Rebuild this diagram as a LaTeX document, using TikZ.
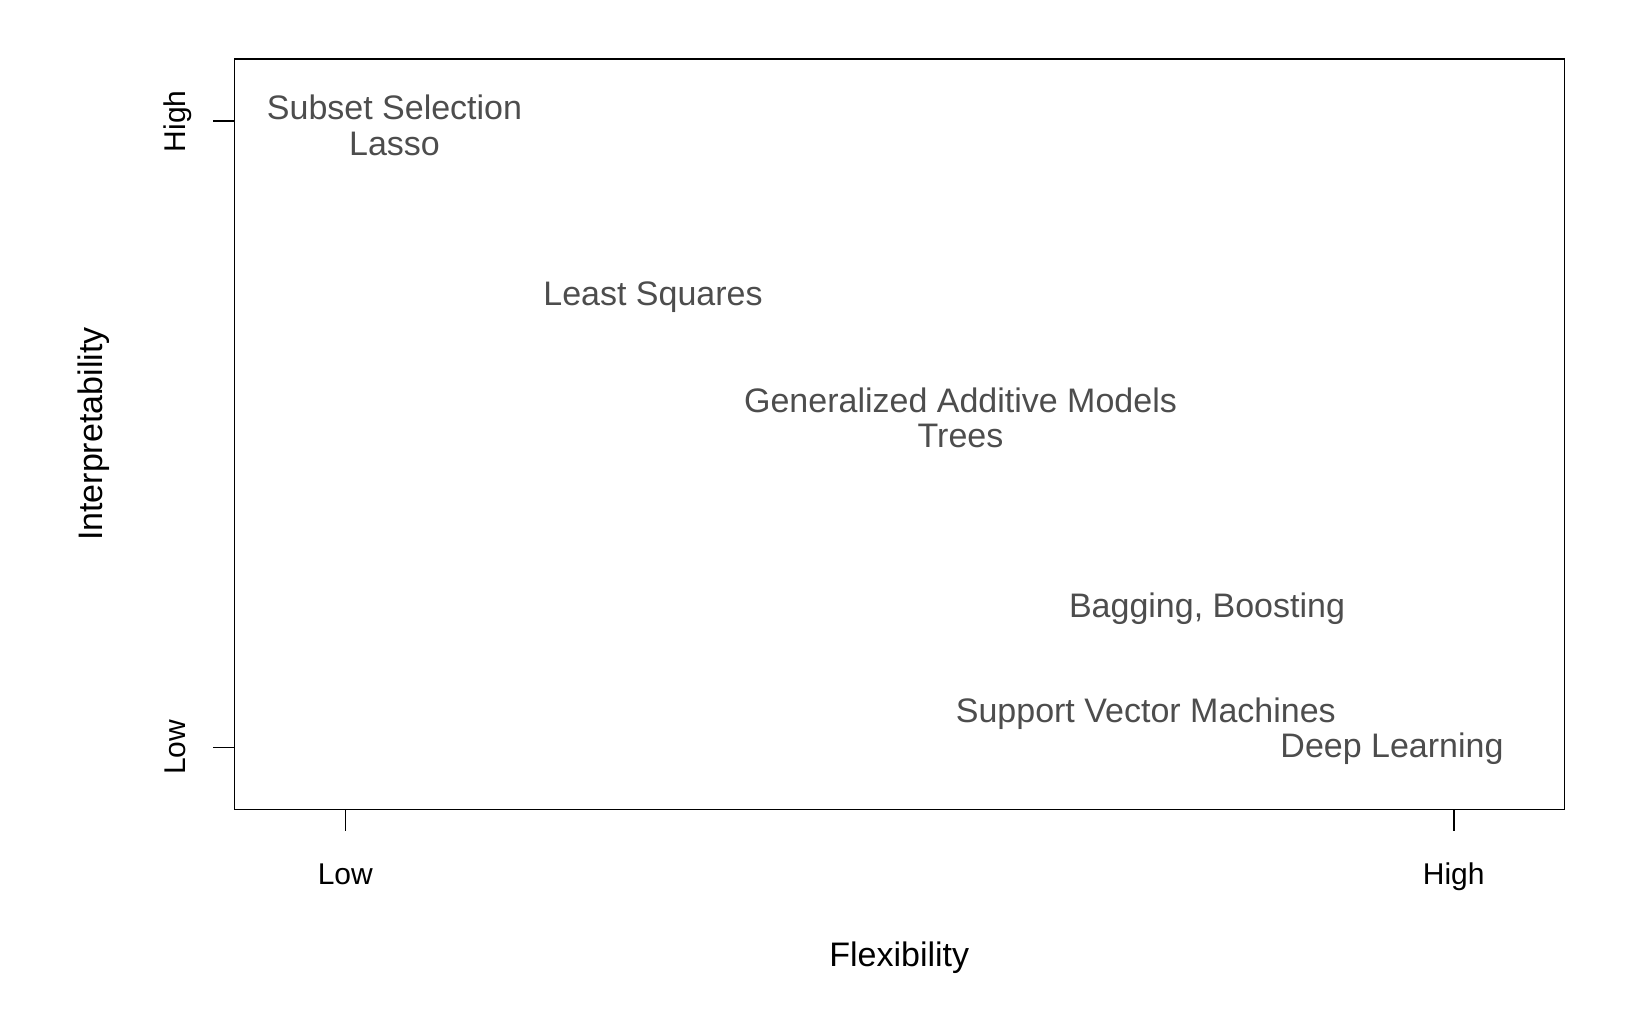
\documentclass[tikz,border=0pt]{standalone}
\usepackage{fontspec}
\setmainfont{Liberation Sans}
\usetikzlibrary{positioning}

\definecolor{labelgray}{RGB}{77,77,77}

\begin{document}
\begin{tikzpicture}[
  x=0.5pt, y=-0.5pt,
  frame/.style={draw, line width=0.8pt},
  tickmark/.style={draw, line width=0.8pt},
  method/.style={font=\fontsize{17}{20}\selectfont, text=labelgray,
    inner sep=0pt, anchor=base},
  ticklabel/.style={font=\fontsize{15}{18}\selectfont, inner sep=0pt,
    anchor=base},
  axistitle/.style={font=\fontsize{17}{20}\selectfont, inner sep=0pt,
    anchor=base}
]
  \useasboundingbox (0,0) rectangle (1652,1020);

  % plot frame
  \coordinate (nw) at (234.3,59.3);
  \coordinate (se) at (1564.3,809.3);
  \draw[frame] (nw) rectangle (se);

  % ticks
  \coordinate (xlow) at (345.3,809.3);
  \coordinate (xhigh) at (1453.7,809.3);
  \coordinate (ylow) at (234.3,747.3);
  \coordinate (yhigh) at (234.3,121.3);
  \draw[tickmark] (xlow) -- ++(0,21.5);
  \draw[tickmark] (xhigh) -- ++(0,21.5);
  \draw[tickmark] (ylow) -- ++(-21,0);
  \draw[tickmark] (yhigh) -- ++(-21,0);

  \node[ticklabel] (xlowlab) at (345.3,884) {Low};
  \node[ticklabel] (xhighlab) at (1453.7,884) {High};
  \node[ticklabel, rotate=90] (ylowlab) at (185.7,747.3) {Low};
  \node[ticklabel, rotate=90] (yhighlab) at (185.7,121.3) {High};

  % axis titles
  \node[axistitle] (flex) at (899.3,966.7) {Flexibility};
  \node[axistitle, rotate=90] (interp) at (102.7,434.2) {Interpretability};

  % methods
  \node[method] (subset) at (394.5,119.5) {Subset Selection};
  \node[method] (lasso) at (394.5,156) {Lasso};
  \node[method] (ls) at (653,305.3) {Least Squares};
  \node[method] (gam) at (960.5,413) {Generalized Additive Models};
  \node[method] (trees) at (960.5,447.5) {Trees};
  \node[method] (bagging) at (1207,617) {Bagging, Boosting};
  \node[method] (svm) at (1145.8,722.7) {Support Vector Machines};
  \node[method] (deep) at (1392,757) {Deep Learning};
\end{tikzpicture}
\end{document}
